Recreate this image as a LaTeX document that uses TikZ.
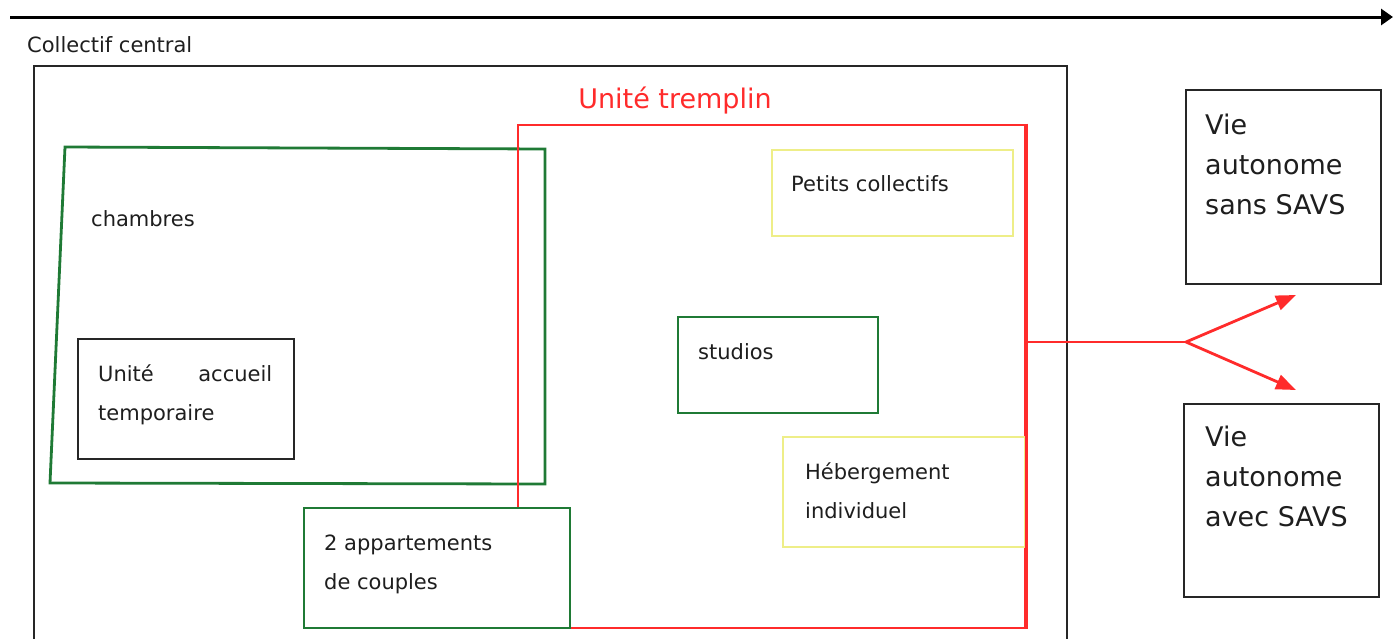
\documentclass[tikz,border=0pt]{standalone}
\usepackage{fontspec}
\setmainfont{DejaVu Sans}
\usetikzlibrary{arrows.meta}
\definecolor{myred}{HTML}{FF2B2B}
\definecolor{mygreen}{HTML}{1F7A35}
\definecolor{myyellow}{HTML}{EEEE88}
\definecolor{mytext}{HTML}{1E1E1E}
\tikzset{
  blackbox/.style={draw=black!85, line width=2.8pt, inner sep=0pt},
  greenbox/.style={draw=mygreen, line width=2.8pt, inner sep=0pt},
  yellowbox/.style={draw=myyellow, line width=2.8pt, inner sep=0pt},
  redline/.style={draw=myred, line width=2.8pt},
  lbl/.style={anchor=mid west, inner sep=0pt, text=mytext, font=\fontsize{21}{25}\selectfont},
  biglbl/.style={anchor=mid west, inner sep=0pt, text=mytext, font=\fontsize{27}{32}\selectfont},
}
\begin{document}
\begin{tikzpicture}[x=1pt,y=-1pt]
\useasboundingbox (0,0) rectangle (1393,638);
% top time arrow
\coordinate (tstart) at (10,17);
\coordinate (tend) at (1393,17);
\draw[line width=3pt, -{Triangle[length=12pt,width=16pt]}] (tstart) -- (tend);
% Collectif central
\node[lbl] (cc) at (27,50) {Collectif central};
\coordinate (c1) at (34,640);
\coordinate (c2) at (34,66);
\coordinate (c3) at (1067,66);
\coordinate (c4) at (1067,640);
\draw[black!85, line width=2.8pt] (c1) -- (c2) -- (c3) -- (c4);
% chambres (green quadrilateral)
\draw[mygreen, line width=2.8pt] (65,147) -- (545,149) -- (545,484) -- (50,483) -- cycle;
\node[lbl] (ch) at (91,224) {chambres};
% Unité accueil temporaire
\node[blackbox, minimum width=216pt, minimum height=120pt] (uat) at (186,399) {};
\node[lbl, text width=174pt] (uat1) at (98,379) {Unité\hfill accueil};
\node[lbl] (uat2) at (98,418) {temporaire};
% Unité tremplin
\node[redline, inner sep=0pt, minimum width=507pt, minimum height=503pt] (ut) at (771.5,376.5) {};
\node[anchor=mid, inner sep=0pt, text=myred, font=\fontsize{27}{32}\selectfont] (utl) at (675,106) {Unité tremplin};
% Petits collectifs
\node[yellowbox, minimum width=241pt, minimum height=86pt] (pc) at (892.5,193) {};
\node[lbl] (pcl) at (791,189) {Petits collectifs};
% studios
\node[greenbox, minimum width=200pt, minimum height=96pt] (st) at (778,365) {};
\node[lbl] (stl) at (698,357) {studios};
% Hebergement individuel
\node[yellowbox, minimum width=242pt, minimum height=110pt] (hi) at (904,492) {};
\node[lbl] (hil1) at (805,477) {Hébergement};
\node[lbl] (hil2) at (805,516) {individuel};
\draw[redline] (ut.north east) -- (ut.south east);
% 2 appartements de couples
\node[greenbox, fill=white, minimum width=266pt, minimum height=120pt] (ap) at (437,568) {};
\node[lbl] (apl1) at (324,548) {2 appartements};
\node[lbl] (apl2) at (324,587) {de couples};
% Vie autonome boxes
\node[blackbox, minimum width=195pt, minimum height=194pt] (vs) at (1283.5,187) {};
\node[biglbl] (vs1) at (1205,132) {Vie};
\node[biglbl] (vs2) at (1205,172) {autonome};
\node[biglbl] (vs3) at (1205,212) {sans SAVS};
\node[blackbox, minimum width=195pt, minimum height=193pt] (va) at (1281.5,500.5) {};
\node[biglbl] (va1) at (1205,444) {Vie};
\node[biglbl] (va2) at (1205,484) {autonome};
\node[biglbl] (va3) at (1205,524) {avec SAVS};
% connectors
\coordinate (split) at (1186,342);
\coordinate (tos) at (1296,295);
\coordinate (toa) at (1296,390);
\draw[redline] (ut.east |- split) -- (split);
\draw[redline, -{Triangle[length=20pt,width=15pt]}] (split) -- (tos);
\draw[redline, -{Triangle[length=20pt,width=15pt]}] (split) -- (toa);
\end{tikzpicture}
\end{document}
